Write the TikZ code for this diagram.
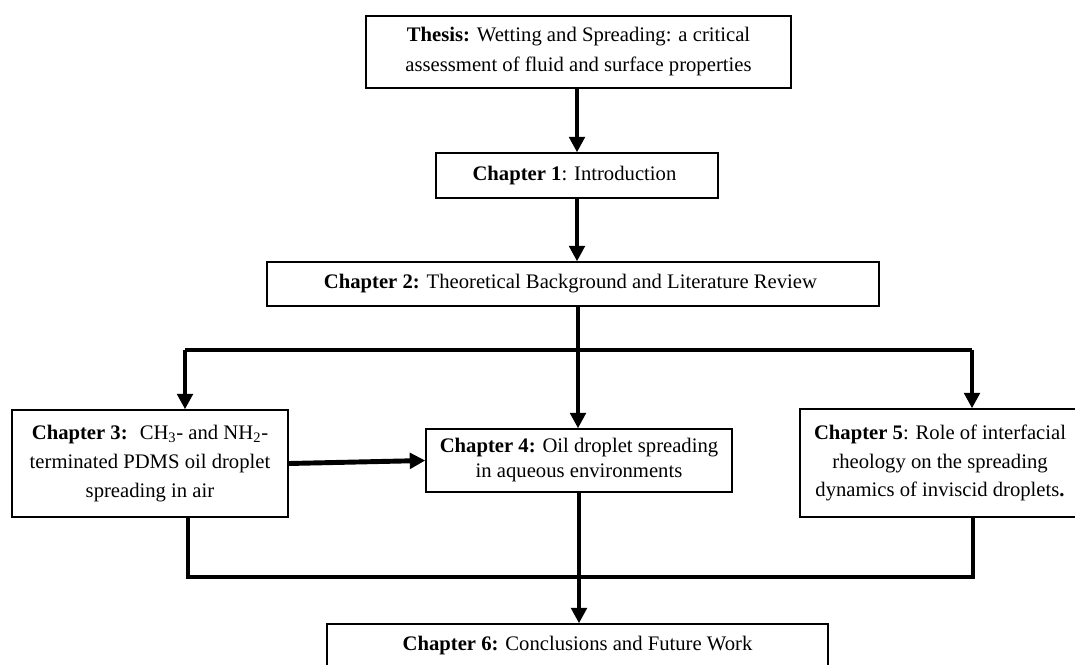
\documentclass[tikz,border=0pt]{standalone}
\usepackage{fontspec}
\setmainfont{Liberation Serif}
\usepackage{tikz}
\usetikzlibrary{positioning, arrows.meta, calc}

\begin{document}
\begin{tikzpicture}[x=0.025cm, y=-0.025cm,
    chapbox/.style={draw, line width=1pt, rectangle, align=center, inner sep=0pt, font=\fontsize{14.7}{20.5}\selectfont},
    link/.style={line width=3.5pt, line join=miter},
    flow/.style={link, -{Triangle[width=11pt, length=11pt]}}]
          \useasboundingbox (0, 0) rectangle (1075, 664);
          \clip (0, 0) rectangle (1075, 664);

          \node[chapbox, minimum width=10.625cm, minimum height=1.8cm, font=\fontsize{14.7}{21.3}\selectfont] (thesis) at (578.5, 52) {
            \textbf{Thesis:} Wetting and Spreading: a critical\\
            assessment of fluid and surface properties
          };

          \node[chapbox, minimum width=7.05cm, minimum height=1.125cm] (ch1) at (577, 175.5) {
            \textbf{Chapter 1}: Introduction
          };

          \node[chapbox, minimum width=15.3cm, minimum height=1.1cm] (ch2) at (573, 284) {
            \textbf{Chapter 2:} Theoretical Background and Literature Review
          };

          \node[chapbox, minimum width=6.9cm, minimum height=2.675cm] (ch3) at (150, 463.5) {
            \textbf{Chapter 3:}~ CH\textsubscript{3}- and NH\textsubscript{2}-\\
            terminated PDMS oil droplet\\
            spreading in air
          };

          \node[chapbox, minimum width=7.65cm, minimum height=1.575cm, font=\fontsize{14.7}{17.8}\selectfont] (ch4) at (579, 460.5) {
            \textbf{Chapter 4:} Oil droplet spreading\\
            in aqueous environments
          };

          \node[chapbox, minimum width=7cm, minimum height=2.7cm, font=\fontsize{14.7}{20}\selectfont] (ch5) at (940, 463) {
            \textbf{Chapter 5}: Role of interfacial\\
            rheology on the spreading\\
            dynamics of inviscid droplets\textbf{.}
          };

          \node[draw, line width=1pt, inner sep=0pt, minimum width=12.525cm, text height=0.65cm, text depth=1cm, anchor=base, font=\fontsize{14.7}{20}\selectfont] (ch6) at (577.5, 650) {
            \textbf{Chapter 6:} Conclusions and Future Work
          };

          % branching to chapters 3-5
          \coordinate (split) at (578, 350);
          \coordinate (splitL) at (185, 350);
          \coordinate (splitR) at (972, 350);

          \draw[flow] (ch1.north |- thesis.south) -- (ch1.north);
          \draw[flow] (ch1.south) -- (ch1.south |- ch2.north);

          \draw[link] (ch2.south -| split) -- (split);
          \draw[link] (splitL) -- (splitR);
          \draw[flow] (splitL) -- (splitL |- ch3.north);
          \draw[flow] (split) -- (split |- ch4.north);
          \draw[flow] (splitR) -- (splitR |- ch5.north);

          \draw[flow] (ch3.east) -- (ch4.west);

          % joining into chapter 6
          \coordinate (join) at (579, 577);
          \coordinate (joinL) at (188, 577);
          \coordinate (joinR) at (973, 577);

          \draw[link] (ch3.south -| joinL) -- (joinL) -- (joinR) -- (ch5.south -| joinR);
          \draw[flow] (ch4.south -| join) -- (join |- ch6.north);
        \end{tikzpicture}
\end{document}
